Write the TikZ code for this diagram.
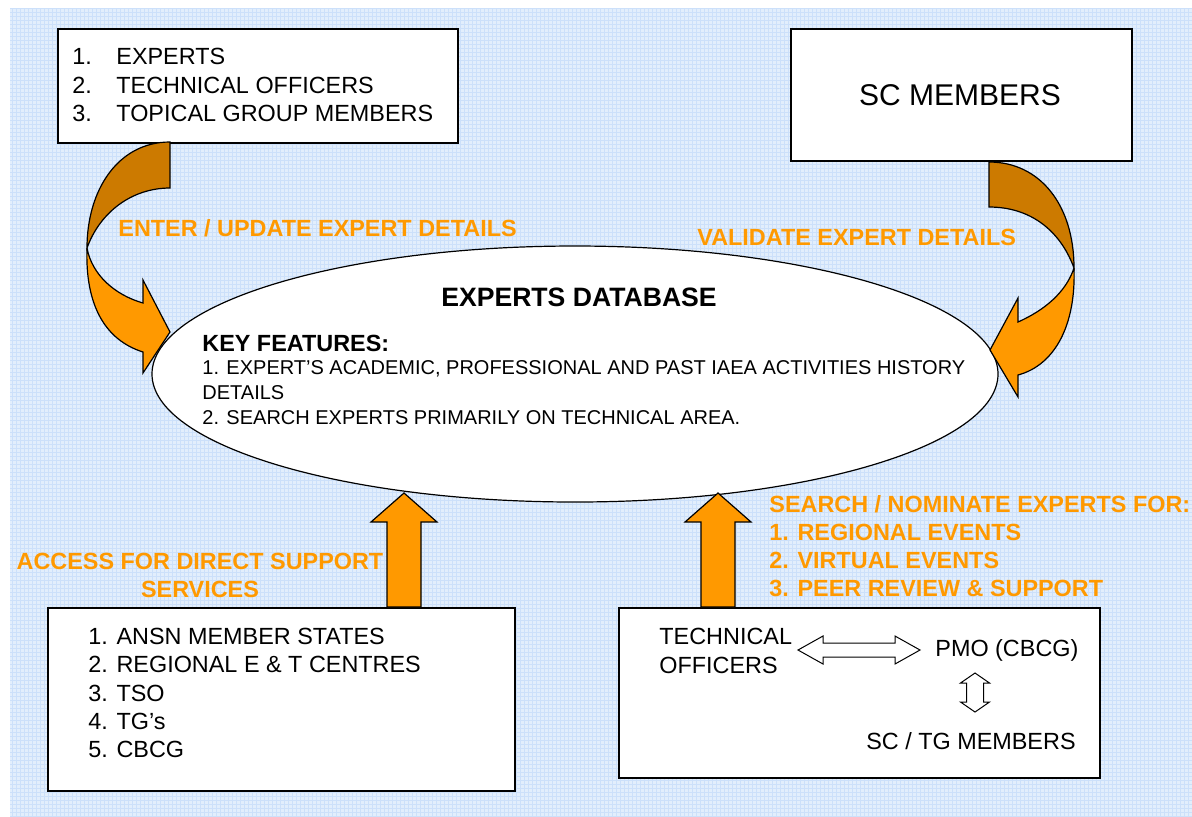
\documentclass[tikz,border=0pt]{standalone}
\usepackage{fontspec}
\setmainfont{Liberation Sans}
\usetikzlibrary{shapes.geometric,positioning}

\definecolor{bgblue}{RGB}{226,238,252}
\definecolor{gridblue}{RGB}{204,224,250}
\definecolor{lightorange}{RGB}{255,153,0}
\definecolor{darkorange}{RGB}{204,122,0}

\begin{document}
\begin{tikzpicture}[x=0.5pt,y=-0.5pt]
\tikzstyle{every node}+=[inner sep=0pt]
\tikzstyle{box}=[draw=black, line width=0.8pt, fill=white, anchor=north west]
\tikzstyle{txt}=[font=\fontsize{11.7}{14.1}\selectfont, align=left]
\tikzstyle{lbl}=[text=lightorange, font=\bfseries\fontsize{11.7}{14}\selectfont]
\tikzstyle{blk}=[draw=black, line width=0.6pt, fill=lightorange, line join=miter]
\tikzstyle{blkdark}=[draw=black, line width=0.6pt, fill=darkorange]
\tikzstyle{dbl}=[draw=black, line width=0.5pt, fill=white]
\useasboundingbox (0,0) rectangle (1192,816);
% background
\fill[bgblue] (10,8) rectangle (1192,816);
\draw[gridblue, line width=0.35pt, step=2pt] (10,8) grid (1192,816);
% boxes
\node[box, minimum width=200pt, minimum height=57pt] (roles) at (57,28) {};
\node[txt, anchor=west] (rolelist) at (72,85)
  {\makebox[22pt][l]{1.}EXPERTS\\\makebox[22pt][l]{2.}TECHNICAL OFFICERS\\\makebox[22pt][l]{3.}TOPICAL GROUP MEMBERS};
\node[box, minimum width=170.5pt, minimum height=66pt] (scbox) at (790,28) {};
\node[font=\fontsize{15}{18}\selectfont] (sc) at (960,95) {SC MEMBERS};
\node[box, minimum width=233.5pt, minimum height=91.5pt] (support) at (47,607) {};
\node[txt, anchor=west] (supportlist) at (88,693)
  {1. ANSN MEMBER STATES\\2. REGIONAL E \& T CENTRES\\3. TSO\\4. TG’s\\5. CBCG};
\node[box, minimum width=240.5pt, minimum height=85pt] (nominate) at (618,607) {};
\node[txt, anchor=west] (officers) at (659,651) {TECHNICAL\\OFFICERS};
\node[txt, anchor=west] (pmo) at (935,650) {PMO (CBCG)};
\node[txt, anchor=east] (members) at (1076,741) {SC / TG MEMBERS};
% database
\node[ellipse, draw=black, line width=0.6pt, fill=white, minimum width=423pt, minimum height=128pt] (db) at (575,374) {};
\node[font=\bfseries\fontsize{13.3}{16}\selectfont] (dbtitle) at (579,297) {EXPERTS DATABASE};
\node[font=\bfseries\fontsize{11.7}{14}\selectfont, anchor=west] (keyf) at (202,343) {KEY FEATURES:};
\node[font=\fontsize{10}{12.3}\selectfont, align=left, anchor=west] (feat) at (202,392.5)
  {1. EXPERT’S ACADEMIC, PROFESSIONAL AND PAST IAEA ACTIVITIES HISTORY\\DETAILS\\2. SEARCH EXPERTS PRIMARILY ON TECHNICAL AREA.};
% curved arrows
\fill[blkdark] (170,142) .. controls (118,142) and (87,190) .. (87,248)
  .. controls (100,212) and (132,188) .. (170,188) -- cycle;
\fill[blk] (87,248) .. controls (85,305) and (105,340) .. (143,352)
  -- (143,373) -- (170,332) -- (143,280) -- (143,303)
  .. controls (115,295) and (92,275) .. (87,248);
\fill[blkdark] (989,162) .. controls (1040,162) and (1074,205) .. (1074,268)
  .. controls (1060,230) and (1030,207) .. (989,207) -- cycle;
\fill[blk] (1074,268) .. controls (1076,325) and (1055,365) .. (1018,375)
  -- (1018,397) -- (990,350) -- (1018,298) -- (1018,322)
  .. controls (1045,310) and (1066,292) .. (1074,268);
% block arrows up
\coordinate (upA) at (404,607);
\coordinate (upB) at (718,607);
\foreach \c in {upA,upB}
  \draw[blk] (\c) ++(-17,0) -- ++(0,-85) -- ++(-16,0) -- ++(33,-29) -- ++(33,29) -- ++(-16,0) -- ++(0,85) -- cycle;
% double arrows
\draw[dbl] (798,650) -- ++(25,-14) -- ++(0,7) -- (895,643) -- ++(0,-7) -- (920,650)
  -- ++(-25,14) -- ++(0,-7) -- (823,657) -- ++(0,7) -- cycle;
\draw[dbl] (975,673) -- (989.5,683) -- (983.5,683) -- (983.5,702) -- (989.5,702) -- (975,712)
  -- (960.5,702) -- (966.5,702) -- (966.5,683) -- (960.5,683) -- cycle;
% labels
\node[lbl, anchor=west] (enter) at (118,228) {ENTER / UPDATE EXPERT DETAILS};
\node[lbl, anchor=west] (validate) at (697,237) {VALIDATE EXPERT DETAILS};
\node[lbl, align=center] (access) at (200,575) {ACCESS FOR DIRECT SUPPORT\\SERVICES};
\node[lbl, align=left, anchor=west] (search) at (769,546)
  {SEARCH / NOMINATE EXPERTS FOR:\\1. REGIONAL EVENTS\\2. VIRTUAL EVENTS\\3. PEER REVIEW \& SUPPORT};
\end{tikzpicture}
\end{document}
